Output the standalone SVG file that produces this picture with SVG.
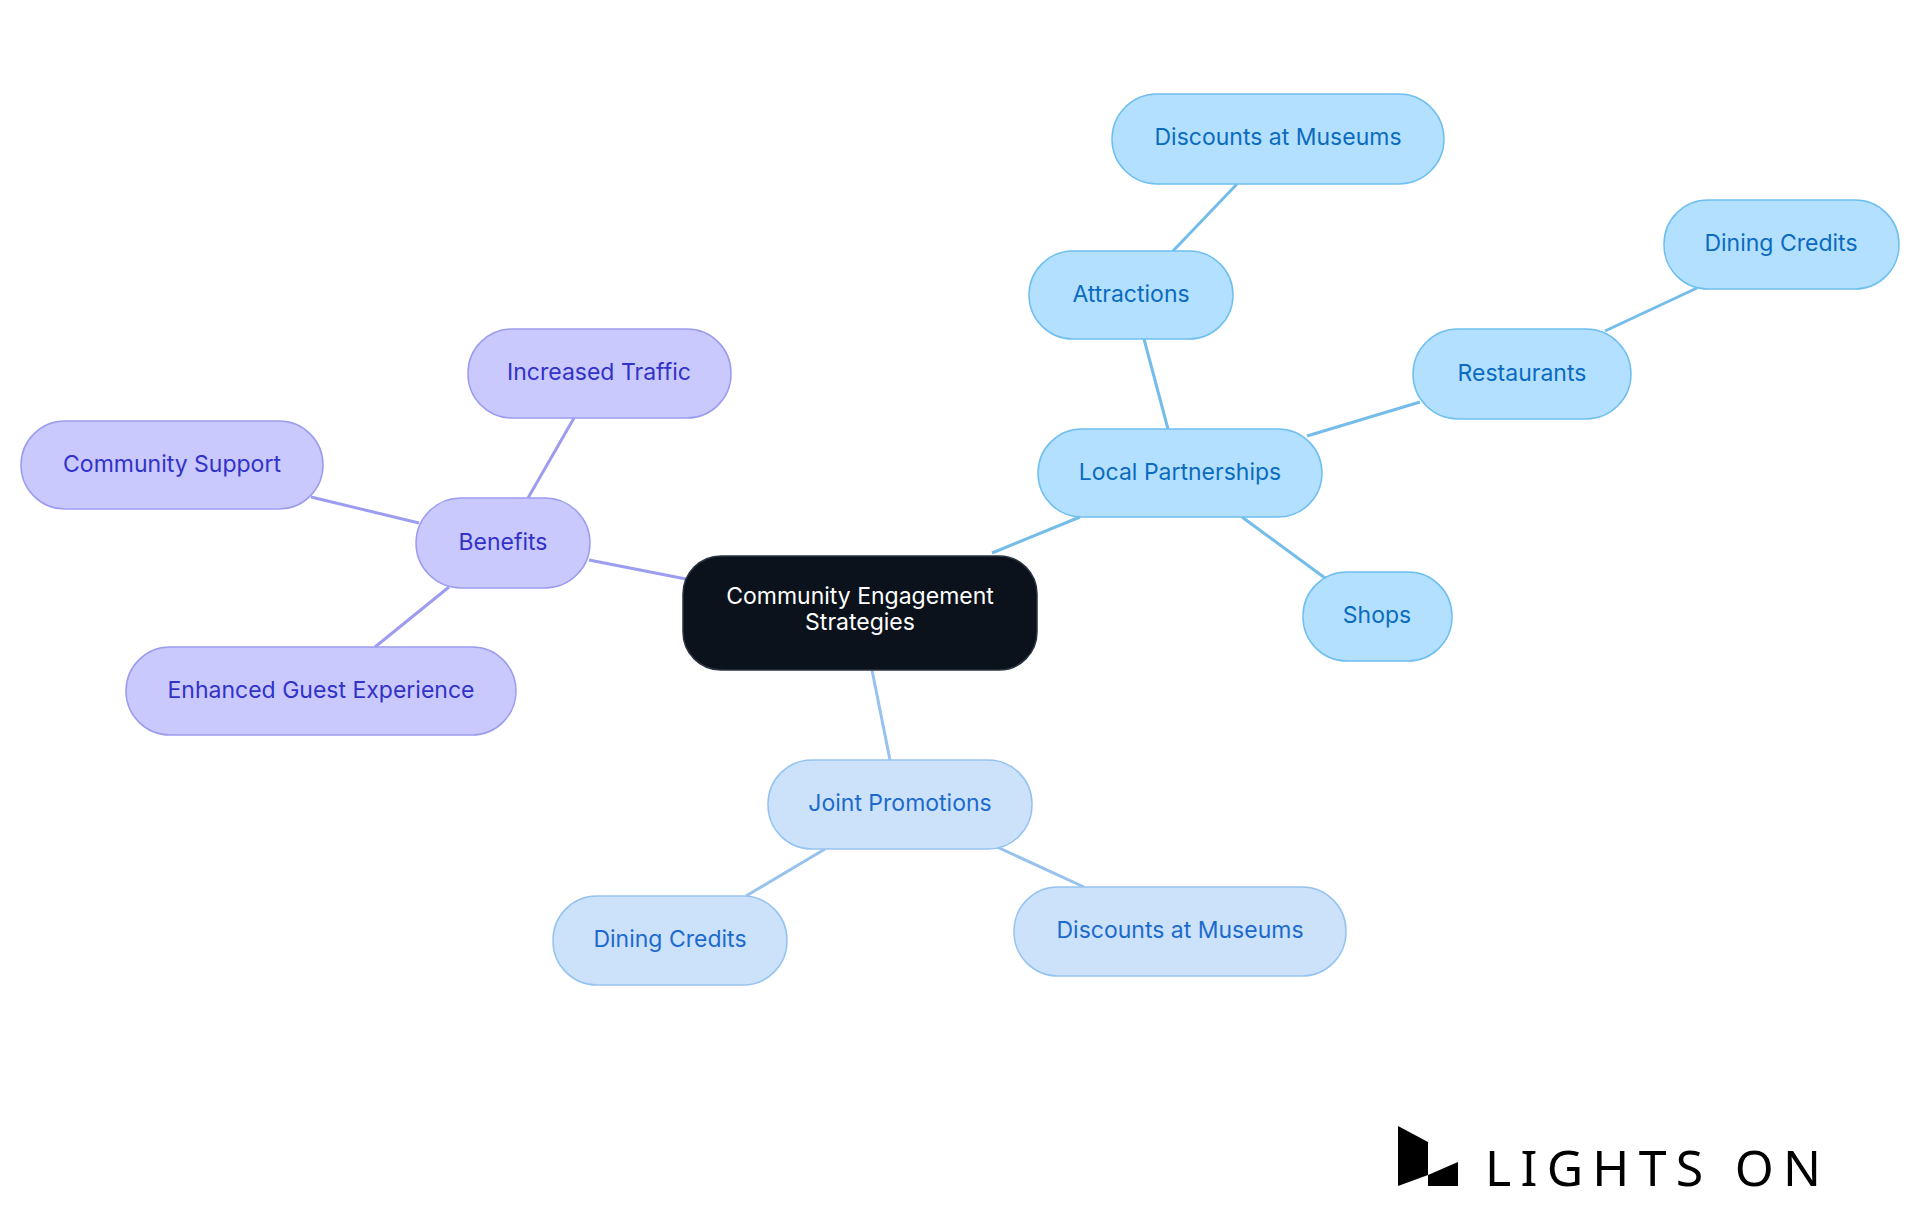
<svg xmlns="http://www.w3.org/2000/svg" width="1920" height="1215" viewBox="0 0 1920 1215">
<style>
text{font-family:Inter,"Noto Sans",sans-serif;font-size:23px;text-anchor:middle;dominant-baseline:central}
.b rect{fill:#b3e0fe;stroke:#6fbff0;stroke-width:1.5}.b text{fill:#0b6bbf}
.p rect{fill:#c9c9fe;stroke:#9c9cf0;stroke-width:1.5}.p text{fill:#3232c8}
.j rect{fill:#cce2fb;stroke:#96c3f0;stroke-width:1.5}.j text{fill:#1c6acc}
#edges line{stroke-width:3}
</style>
<rect width="1920" height="1215" fill="#fff"/>
<g id="edges">
<g stroke="#74bdea"><line x1="992" y1="553" x2="1080" y2="517"/><line x1="1168" y1="429" x2="1144" y2="339"/><line x1="1173" y1="251" x2="1237" y2="184"/><line x1="1307" y1="436" x2="1420" y2="402"/><line x1="1605" y1="331" x2="1697" y2="288"/><line x1="1242" y1="517" x2="1325" y2="578"/></g>
<g stroke="#9c9cf0"><line x1="686" y1="579" x2="589" y2="560"/><line x1="528" y1="498" x2="574" y2="418"/><line x1="419" y1="523" x2="311" y2="497"/><line x1="449" y1="587" x2="375" y2="647"/></g>
<g stroke="#98c2ee"><line x1="872" y1="670" x2="890" y2="760"/><line x1="825" y1="849" x2="746" y2="896"/><line x1="997" y1="847" x2="1084" y2="887"/></g>
</g>
<g id="center"><rect x="683" y="556" width="354" height="114" rx="38" fill="#0b121c" stroke="#2a3340" stroke-width="1.5"/><text x="860" y="596" fill="#fff">Community Engagement</text><text x="860" y="622" fill="#fff">Strategies</text></g>
<g id="local" class="b"><rect x="1038" y="429" width="284" height="88" rx="44"/><text x="1180" y="472">Local Partnerships</text></g>
<g id="attractions" class="b"><rect x="1029" y="251" width="204" height="88" rx="44"/><text x="1131" y="294">Attractions</text></g>
<g id="museums1" class="b"><rect x="1112" y="94" width="332" height="90" rx="45"/><text x="1278" y="137">Discounts at Museums</text></g>
<g id="restaurants" class="b"><rect x="1413" y="329" width="218" height="90" rx="45"/><text x="1522" y="373">Restaurants</text></g>
<g id="dining1" class="b"><rect x="1664" y="200" width="235" height="89" rx="44"/><text x="1781" y="243">Dining Credits</text></g>
<g id="shops" class="b"><rect x="1303" y="572" width="149" height="89" rx="44"/><text x="1377" y="615">Shops</text></g>
<g id="benefits" class="p"><rect x="416" y="498" width="174" height="90" rx="45"/><text x="503" y="542">Benefits</text></g>
<g id="traffic" class="p"><rect x="468" y="329" width="263" height="89" rx="44"/><text x="599" y="372">Increased Traffic</text></g>
<g id="support" class="p"><rect x="21" y="421" width="302" height="88" rx="44"/><text x="172" y="464">Community Support</text></g>
<g id="guest" class="p"><rect x="126" y="647" width="390" height="88" rx="44"/><text x="321" y="690">Enhanced Guest Experience</text></g>
<g id="joint" class="j"><rect x="768" y="760" width="264" height="89" rx="44"/><text x="900" y="803">Joint Promotions</text></g>
<g id="dining2" class="j"><rect x="553" y="896" width="234" height="89" rx="44"/><text x="670" y="939">Dining Credits</text></g>
<g id="museums2" class="j"><rect x="1014" y="887" width="332" height="89" rx="44"/><text x="1180" y="930">Discounts at Museums</text></g>
<g id="logo" fill="#000"><polygon points="1398,1126 1428,1142 1428,1175 1398,1186"/><polygon points="1428,1175 1458,1162 1458,1186 1428,1186"/><text x="1485" y="1167" textLength="336" lengthAdjust="spacing" style="font-size:50px;text-anchor:start;font-family:'Noto Sans',sans-serif">LIGHTS ON</text></g>
</svg>
